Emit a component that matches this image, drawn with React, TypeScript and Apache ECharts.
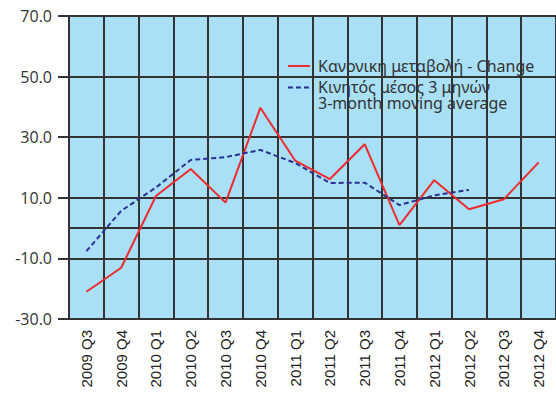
import React, { useEffect, useRef } from "react";
import * as echarts from "echarts";

const categories = [
  "2009 Q3", "2009 Q4", "2010 Q1", "2010 Q2", "2010 Q3", "2010 Q4",
  "2011 Q1", "2011 Q2", "2011 Q3", "2011 Q4", "2012 Q1", "2012 Q2",
  "2012 Q3", "2012 Q4",
];
const change = [-21.0, -13.1, 10.6, 19.5, 8.4, 39.7, 22.3, 16.2, 27.7, 1.0, 15.8, 6.2, 9.5, 21.7];
const movingAvg = [-7.6, 5.7, 13.4, 22.5, 23.4, 25.8, 21.5, 14.9, 15.0, 7.6, 10.8, 12.6, null, null];
const yTicks = { min: -30, max: 70, step: 20 };
const legendChange = "Κανονική μεταβολή - Change";
const legendAvg1 = "Κινητός μέσος 3 μηνών";
const legendAvg2 = "3-month moving average";

export default function App() {
  const ref = useRef<HTMLDivElement>(null);
  useEffect(() => {
    if (!ref.current) return;
    const chart = echarts.init(ref.current, null, { renderer: "svg" });
    const gridColor = "#333333";
    const legendFont = "Noto Sans";
    chart.setOption({
      animation: false,
      backgroundColor: "#ffffff",
      grid: { left: 69, top: 16, right: -5, bottom: 75, show: true, backgroundColor: "#aadff8", borderWidth: 0 },
      xAxis: {
        type: "category",
        data: categories,
        boundaryGap: true,
        axisLine: { show: true, lineStyle: { color: gridColor, width: 2 } },
        axisTick: { show: false },
        splitLine: { show: true, interval: 0, lineStyle: { color: gridColor, width: 2 } },
        axisLabel: {
          rotate: 90,
          interval: 0,
          margin: 11,
          fontSize: 15,
          fontFamily: "Liberation Sans",
          color: "#222",
        },
      },
      yAxis: {
        type: "value",
        min: yTicks.min,
        max: yTicks.max,
        interval: yTicks.step,
        startValue: yTicks.min,
        axisLine: { show: true, lineStyle: { color: gridColor, width: 2 } },
        axisTick: { show: true, inside: false, length: 11, lineStyle: { color: gridColor, width: 2 } },
        splitLine: { show: true, lineStyle: { color: gridColor, width: 2 } },
        axisLabel: {
          margin: 17,
          fontSize: 16,
          fontFamily: "Open Sans",
          color: "#333",
          formatter: (v: number) => v.toFixed(1),
        },
      },
      graphic: [
        { type: "line", shape: { x1: 288, y1: 66, x2: 310, y2: 66 }, style: { stroke: "#ee2a2e", lineWidth: 2 } },
        { type: "text", x: 318, y: 66, style: { text: legendChange, fontSize: 16, fontFamily: legendFont, fill: "#333", verticalAlign: "middle" } },
        { type: "line", shape: { x1: 288, y1: 87.5, x2: 310, y2: 87.5 }, style: { stroke: "#2b3092", lineWidth: 2, lineDash: [5, 3] } },
        { type: "text", x: 318, y: 79, style: { text: legendAvg1 + "\n" + legendAvg2, fontSize: 16, lineHeight: 16, fontFamily: legendFont, fill: "#333", verticalAlign: "top" } },
      ],
      series: [
        {
          name: legendChange,
          type: "line",
          data: change,
          symbol: "none",
          lineStyle: { color: "#ee2a2e", width: 2 },
          z: 3,
        },
        {
          name: legendAvg1,
          type: "line",
          data: movingAvg,
          symbol: "none",
          lineStyle: { color: "#2b3092", width: 2, type: [5, 3] },
          z: 4,
        },
      ],
    });
    return () => chart.dispose();
  }, []);
  return <div ref={ref} style={{ position: "fixed", left: 0, top: 0, width: 556, height: 394 }} />;
}
